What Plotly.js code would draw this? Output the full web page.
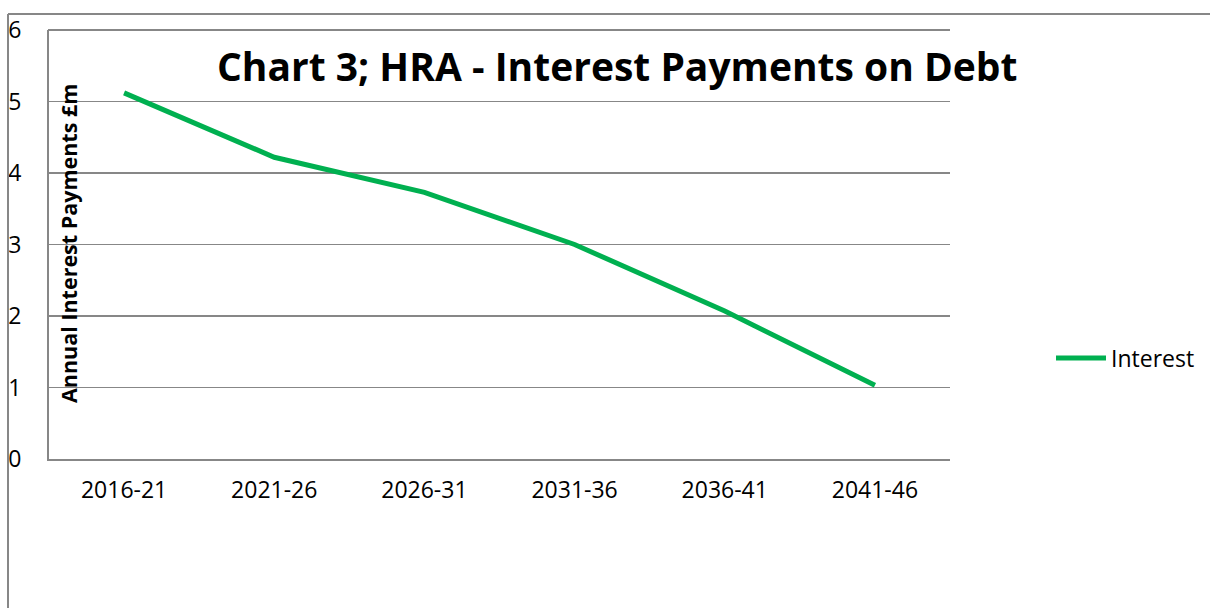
<!DOCTYPE html>
<html>
<head>
<meta charset="utf-8">
<script src="https://cdn.plot.ly/plotly-3.0.1.min.js"></script>
<style>
html,body{margin:0;padding:0;background:#fff;}
#chart{width:1210px;height:608px;}
</style>
</head>
<body>
<div id="chart"></div>
<script>
var periods = ["2016-21","2021-26","2026-31","2031-36","2036-41","2041-46"];
var interest = [5.12, 4.22, 3.73, 3.0, 2.07, 1.03];
var yTicks = [0,1,2,3,4,5,6];
var seriesName = "Interest";
var chartTitle = "Chart 3; HRA - Interest Payments on Debt";
var yTitle = "Annual Interest Payments £m";

var L = 49, R = 950, T = 30, B = 459, W = 1210, H = 608;
var pw = R - L, ph = B - T;
function px(x){ return (x - L) / pw; }
function py(y){ return (B - y) / ph; }

var grey = "#878787";
var font = "Open Sans, Noto Sans, sans-serif";

var trace = {
  x: periods, y: interest, type: "scatter", mode: "lines", name: seriesName,
  line: {color: "#00B050", width: 5}
};

var layout = {
  width: W, height: H,
  margin: {l: L, r: W - R, t: T, b: H - B, pad: 0, autoexpand: false},
  paper_bgcolor: "#fff", plot_bgcolor: "#fff",
  font: {family: font, color: "#000", size: 23},
  showlegend: true,
  legend: {x: px(1051), xanchor: "left", y: py(358), yanchor: "middle",
           itemwidth: 50,
           font: {size: 23, color: "#000"}, bgcolor: "rgba(0,0,0,0)"},
  xaxis: {type: "category", range: [-0.5, 5.5], showgrid: false,
          showline: true, linecolor: grey, linewidth: 2,
          ticks: "", tickfont: {size: 23}, ticklabelstandoff: 9,
          zeroline: false, fixedrange: true},
  yaxis: {range: [0, 6], tickvals: yTicks, ticktext: yTicks.map(String),
          showgrid: true, gridcolor: grey, gridwidth: 1.5,
          showline: true, linecolor: grey, linewidth: 2,
          ticks: "", tickfont: {size: 23}, ticklabelstandoff: 21,
          zeroline: false, fixedrange: true},
  annotations: [
    {text: "<b>" + chartTitle + "</b>", xref: "paper", yref: "paper",
     x: px(617), y: py(65), xanchor: "center", yanchor: "middle",
     showarrow: false, font: {size: 39, color: "#000", family: font}},
    {text: "<b>" + yTitle + "</b>", xref: "paper", yref: "paper",
     x: px(68), y: py(244), xanchor: "center", yanchor: "middle",
     textangle: -90, showarrow: false, font: {size: 21.5, color: "#000", family: font}}
  ],
  shapes: [
    {type: "line", xref: "paper", yref: "paper", x0: px(48), x1: px(950), y0: py(30), y1: py(30),
     line: {color: grey, width: 2}, layer: "above"},
    {type: "line", xref: "paper", yref: "paper", x0: px(8), x1: px(1215), y0: py(14), y1: py(14),
     line: {color: grey, width: 2}},
    {type: "line", xref: "paper", yref: "paper", x0: px(8), x1: px(8), y0: py(14), y1: py(615),
     line: {color: grey, width: 2}}
  ]
};

Plotly.newPlot("chart", [trace], layout, {displayModeBar: false, staticPlot: true});
</script>
</body>
</html>
